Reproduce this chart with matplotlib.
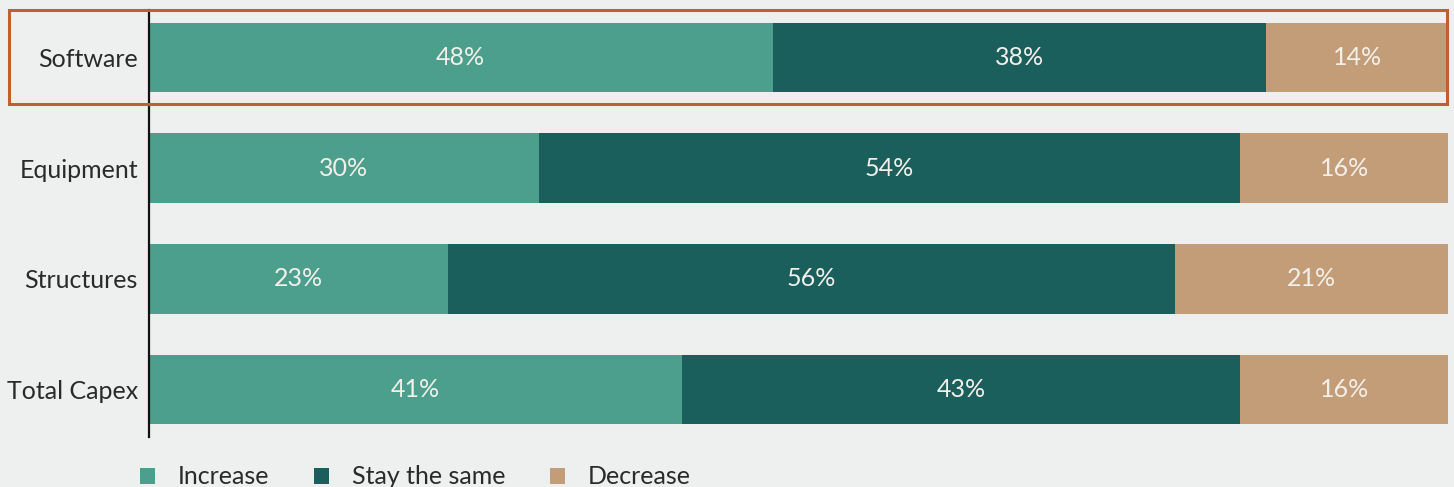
import matplotlib
matplotlib.use("Agg")
import matplotlib.pyplot as plt
import numpy as np
from matplotlib.patches import Rectangle

categories = ["Software", "Equipment", "Structures", "Total Capex"]
increase = [48, 30, 23, 41]
same = [38, 54, 56, 43]
decrease = [14, 16, 21, 16]
series_names = ["Increase", "Stay the same", "Decrease"]
colors = ["#4C9F8C", "#1A5F5C", "#C39C78"]

bg = "#EEF0EF"
W, H = 1454, 487

#=======================================================
fig = plt.figure(figsize=(W / 100, H / 100), dpi=100, facecolor=bg)
ax = fig.add_axes([149 / W, 50 / H, (1448 - 149) / W, 427 / H])
ax.set_facecolor(bg)

y = np.arange(len(categories))
left = np.zeros(len(categories))
handles = []
for vals, name, c in zip([increase, same, decrease], series_names, colors):
    bars = ax.barh(y, vals, left=left, height=0.63, color=c, label=name)
    handles.append(bars)
    for yi, l, v in zip(y, left, vals):
        ax.text(l + v / 2, yi, f"{v}%", ha="center", va="center",
                color="#F3F0EA", fontsize=18, family="Lato")
    left += vals

ax.set_xlim(0, 100)
ax.set_ylim(3.43, -0.43)
ax.set_xticks([])
ax.set_yticks(y)
ax.set_yticklabels(categories, fontsize=18, family="Lato", color="#2a2a2a")
ax.tick_params(axis="y", length=0, pad=8)
for s in ["top", "right", "bottom"]:
    ax.spines[s].set_visible(False)
ax.spines["left"].set_linewidth(1.6)
ax.spines["left"].set_color("#111111")

# highlight box round the first row
fig.patches.append(Rectangle((9 / W, (H - 104) / H), (1447 - 9) / W, 94 / H,
                             transform=fig.transFigure, fill=False,
                             edgecolor="#C0602F", linewidth=2.2))

#=======================================================
fig.legend(handles=handles, labels=series_names, loc="center left",
           bbox_to_anchor=(117 / W, 10 / H), ncol=3, frameon=False,
           handlelength=0.6, handleheight=0.6, handletextpad=0.95,
           columnspacing=1.75, prop={"family": "Lato", "size": 18},
           labelcolor="#2a2a2a")

fig.savefig("out.png", dpi=100, facecolor=bg)
